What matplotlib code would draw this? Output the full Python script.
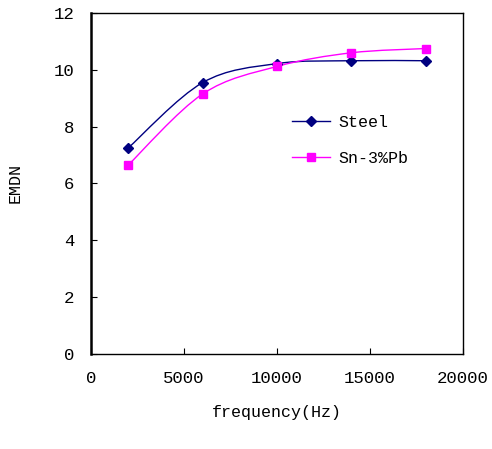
import numpy as np
import matplotlib.pyplot as plt
from matplotlib.path import Path
from matplotlib.patches import PathPatch

freq = [2000, 6000, 10000, 14000, 18000]
steel = [7.25, 9.55, 10.22, 10.32, 10.32]
snpb = [6.65, 9.15, 10.12, 10.6, 10.75]

plt.rcParams['font.family'] = ['Liberation Mono', 'DejaVu Sans Mono']


def smooth_path(x, y):
    # excel-like smoothed line (catmull-rom as cubic bezier)
    pts = np.column_stack([x, y]).astype(float)
    verts = [pts[0]]
    codes = [Path.MOVETO]
    n = len(pts)
    for i in range(n - 1):
        p0 = pts[i - 1] if i > 0 else pts[i]
        p1 = pts[i]
        p2 = pts[i + 1]
        p3 = pts[i + 2] if i + 2 < n else pts[i + 1]
        c1 = p1 + (p2 - p0) / 6
        c2 = p2 - (p3 - p1) / 6
        verts += [c1, c2, p2]
        codes += [Path.CURVE4] * 3
    return Path(verts, codes)


fig = plt.figure(figsize=(4.92, 4.49), dpi=100)
ax = fig.add_axes([91 / 492, 1 - 354 / 449, (463 - 91) / 492, (354 - 13) / 449])

for yv, col, mk, ms, lab in [(steel, '#000080', 'D', 5, 'Steel'),
                             (snpb, '#FF00FF', 's', 6, 'Sn-3%Pb')]:
    ax.add_patch(PathPatch(smooth_path(freq, yv), fill=False, edgecolor=col, lw=1.0))
    ax.plot(freq, yv, ls='none', marker=mk, color=col, ms=ms)
    ax.plot([], [], color=col, marker=mk, ms=ms, lw=1.0, label=lab)

ax.set_xlim(0, 20000)
ax.set_ylim(0, 12)
ax.set_xticks([0, 5000, 10000, 15000, 20000])
ax.set_yticks([0, 2, 4, 6, 8, 10, 12])
ax.tick_params(direction='in', length=4, labelsize=12.5, pad=12)
for s in ax.spines.values():
    s.set_linewidth(1.0)
ax.spines['left'].set_linewidth(1.8)

ax.set_xlabel('frequency(Hz)', fontsize=12, labelpad=14)
ax.set_ylabel('EMDN', fontsize=12, labelpad=22)

ax.legend(frameon=False, loc='upper left', bbox_to_anchor=(0.5, 0.745),
          fontsize=12, handlelength=2.3, handletextpad=0.5, labelspacing=1.25)

plt.savefig('out.png', dpi=100)
